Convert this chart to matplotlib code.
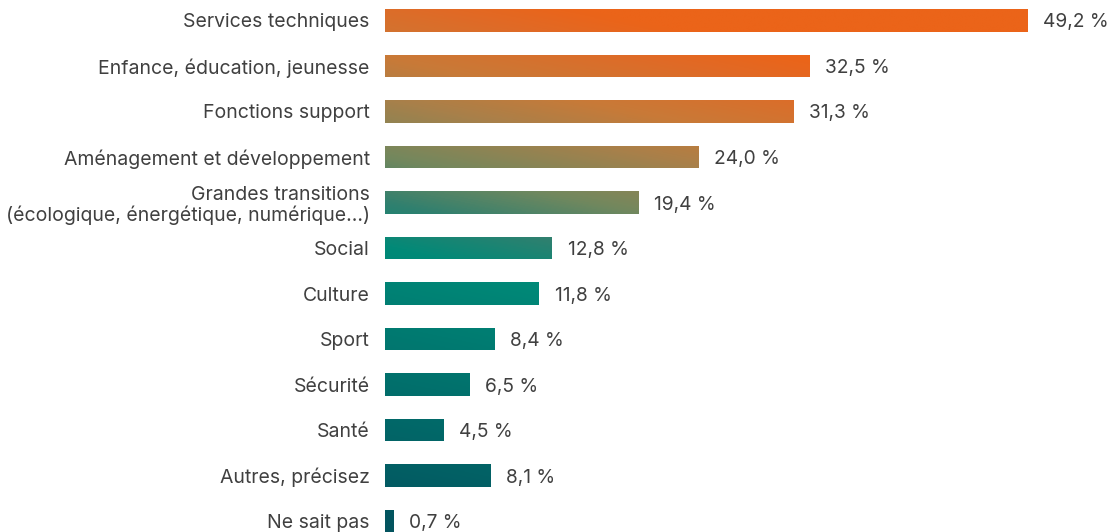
import matplotlib
matplotlib.use("Agg")
import matplotlib.pyplot as plt
import numpy as np
from matplotlib.colors import LinearSegmentedColormap
from matplotlib.path import Path
from matplotlib.patches import PathPatch

# ----------------------------
# Data
# ----------------------------
categories = [
    "Services techniques",
    "Enfance, éducation, jeunesse",
    "Fonctions support",
    "Aménagement et développement",
    "Grandes transitions\n(écologique, énergétique, numérique…)",
    "Social",
    "Culture",
    "Sport",
    "Sécurité",
    "Santé",
    "Autres, précisez",
    "Ne sait pas",
]
values = [49.2, 32.5, 31.3, 24.0, 19.4, 12.8, 11.8, 8.4, 6.5, 4.5, 8.1, 0.7]

INK = "#404040"

# gradient stops: teal at the bottom-left, orange at the top-right
grad_stops = [
    (0.0, "#03545f"),
    (6.0 / 14, "#008a78"),
    (7.0 / 14, "#30806f"),
    (8.0 / 14, "#72885e"),
    (9.3 / 14, "#a8804a"),
    (10.2 / 14, "#c87a38"),
    (11.5 / 14, "#e06a26"),
    (12.2 / 14, "#eb6419"),
    (1.0, "#eb6419"),
]
cmap = LinearSegmentedColormap.from_list("teal_orange", grad_stops)

plt.rcParams["font.family"] = ["Inter", "DejaVu Sans"]

fig = plt.figure(figsize=(11.11, 5.32), dpi=100)
ax = fig.add_axes([385 / 1111, 0, 726 / 1111, 1])

n = len(categories)
ypos = np.arange(n)
xmax = 726 / 13.07
ylo, yhi = 11.24, -0.45

bars = ax.barh(ypos, values, height=0.5, facecolor="none", edgecolor="none")

# gradient image clipped to the bars
gx = np.linspace(0, xmax, 700)
gy = np.linspace(yhi, ylo, 500)
GX, GY = np.meshgrid(gx, gy)
field = ((n - 1) - GY) + 0.063 * GX
im = ax.imshow(field, cmap=cmap, vmin=0, vmax=14, aspect="auto",
               extent=[0, xmax, ylo, yhi], origin="upper", interpolation="bilinear")
paths = [b.get_path().transformed(b.get_patch_transform()) for b in bars]
clip = PathPatch(Path.make_compound_path(*paths), transform=ax.transData,
                 facecolor="none", edgecolor="none")
ax.add_patch(clip)
im.set_clip_path(clip)

for y, v in zip(ypos, values):
    ax.annotate(f"{v:.1f} %".replace(".", ","), xy=(v, y), xytext=(11, 0),
                textcoords="offset points", va="center_baseline", ha="left",
                fontsize=13.8, color=INK)

ax.set_xlim(0, xmax)
ax.set_ylim(ylo, yhi)
ax.set_yticks(ypos)
ax.set_yticklabels(categories, fontsize=14, color=INK, linespacing=1.12)
for lbl in ax.get_yticklabels():
    lbl.set_verticalalignment("center_baseline")
ax.tick_params(axis="y", length=0, pad=11)
ax.set_xticks([])
for s in ax.spines.values():
    s.set_visible(False)

fig.savefig("out.png", dpi=100)
